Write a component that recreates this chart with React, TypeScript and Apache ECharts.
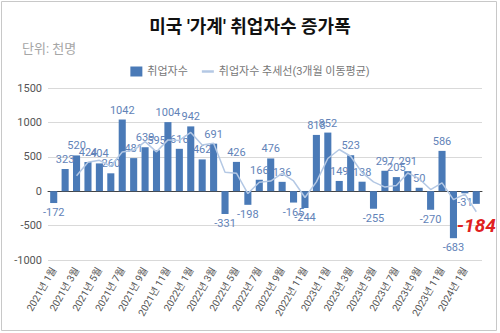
import React, { useEffect, useRef } from "react";
import * as echarts from "echarts";

const months: string[] = [
  "2021년 1월","2021년 2월","2021년 3월","2021년 4월","2021년 5월","2021년 6월",
  "2021년 7월","2021년 8월","2021년 9월","2021년 10월","2021년 11월","2021년 12월",
  "2022년 1월","2022년 2월","2022년 3월","2022년 4월","2022년 5월","2022년 6월",
  "2022년 7월","2022년 8월","2022년 9월","2022년 10월","2022년 11월","2022년 12월",
  "2023년 1월","2023년 2월","2023년 3월","2023년 4월","2023년 5월","2023년 6월",
  "2023년 7월","2023년 8월","2023년 9월","2023년 10월","2023년 11월","2023년 12월",
  "2024년 1월","2024년 2월",
];

const employed: number[] = [
  -172, 323, 520, 424, 404, 260, 1042, 481, 639, 595, 1004, 616,
  942, 462, 691, -331, 426, -198, 166, 476, 136, -165, -244, 818,
  852, 149, 523, 138, -255, 297, 205, 291, 50, -270, 586, -683,
  -31, -184,
];

const trend: (number | null)[] = [
  null, null, 224, 422, 449, 363, 569, 594, 721, 572, 746, 738,
  854, 673, 698, 274, 262, -34, 131, 148, 259, 149, -91, 136,
  475, 606, 508, 270, 135, 60, 82, 264, 182, 24, 122, -122,
  -43, -299,
];

const yTicks = { min: -1000, max: 1500, interval: 500 };

const FONT = "Roboto, 'Noto Sans CJK KR', sans-serif";

export default function App() {
  const ref = useRef<HTMLDivElement>(null);
  useEffect(() => {
    if (!ref.current) return;
    const chart = echarts.init(ref.current, undefined, { renderer: "svg" });
    const lastIdx = employed.length - 1;
    const barData = employed.map((v, i) =>
      i === lastIdx
        ? {
            value: v,
            label: {
              color: "#e02020",
              fontSize: 19,
              fontWeight: "bold",
              fontStyle: "italic",
              position: "bottom",
              distance: 12,
            },
          }
        : {
            value: v,
            label: { position: v >= 0 ? "top" : "bottom" },
          }
    );
    chart.setOption({
      animation: false,
      backgroundColor: "#fff",
      textStyle: { fontFamily: FONT },
      title: [
        {
          text: "미국 '가계' 취업자수 증가폭",
          left: "center",
          top: 12,
          textStyle: { fontSize: 18, fontWeight: "bold", color: "#111", fontFamily: FONT },
        },
        {
          text: "단위: 천명",
          left: 17,
          top: 37,
          textStyle: { fontSize: 13, fontWeight: "normal", color: "#a6a6a6", fontFamily: FONT },
        },
      ],
      legend: {
        top: 61,
        left: "center",
        itemGap: 14,
        itemWidth: 12,
        itemHeight: 10,
        textStyle: { fontSize: 11, color: "#777", fontFamily: FONT },
        data: [
          { name: "취업자수", icon: "rect" },
          {
            name: "취업자수 추세선(3개월 이동평균)",
            icon: "path://M0,0 L12,0 L12,2.5 L0,2.5 Z",
          },
        ],
      },
      grid: { left: 48, right: 18, top: 88, bottom: 73, containLabel: false },
      xAxis: {
        type: "category",
        data: months,
        axisLine: { onZero: true, lineStyle: { color: "#444", width: 1 } },
        axisTick: { show: false },
        axisLabel: {
          interval: 1,
          rotate: 60,
          fontSize: 10,
          color: "#555",
          margin: 8,
          fontFamily: FONT,
        },
      },
      yAxis: {
        type: "value",
        min: yTicks.min,
        max: yTicks.max,
        interval: yTicks.interval,
        axisLine: { show: false },
        axisTick: { show: false },
        axisLabel: {
          fontSize: 11,
          color: "#555",
          margin: 6,
          fontFamily: FONT,
          formatter: (v: number) => String(v),
        },
        splitLine: { lineStyle: { color: "#d9d9d9", width: 1 } },
      },
      series: [
        {
          name: "취업자수",
          type: "bar",
          data: barData,
          barCategoryGap: "38%",
          itemStyle: { color: "#4a7ab7" },
          z: 2,
          label: {
            show: true,
            fontSize: 11,
            color: "#6283b8",
            distance: 4,
            fontFamily: FONT,
          },
        },
        {
          name: "취업자수 추세선(3개월 이동평균)",
          type: "line",
          data: trend,
          symbol: "none",
          connectNulls: false,
          lineStyle: { color: "#b4c8e4", width: 1.5 },
          itemStyle: { color: "#b4c8e4" },
          z: 3,
        },
      ],
      graphic: [
        {
          type: "rect",
          shape: { x: 1.5, y: 1.5, width: 495, height: 329 },
          style: { fill: "none", stroke: "#c8c8c8", lineWidth: 1 },
          silent: true,
        },
      ],
    });
    return () => chart.dispose();
  }, []);
  return (
    <div
      ref={ref}
      style={{ position: "fixed", left: 0, top: 0, width: 500, height: 333 }}
    />
  );
}
